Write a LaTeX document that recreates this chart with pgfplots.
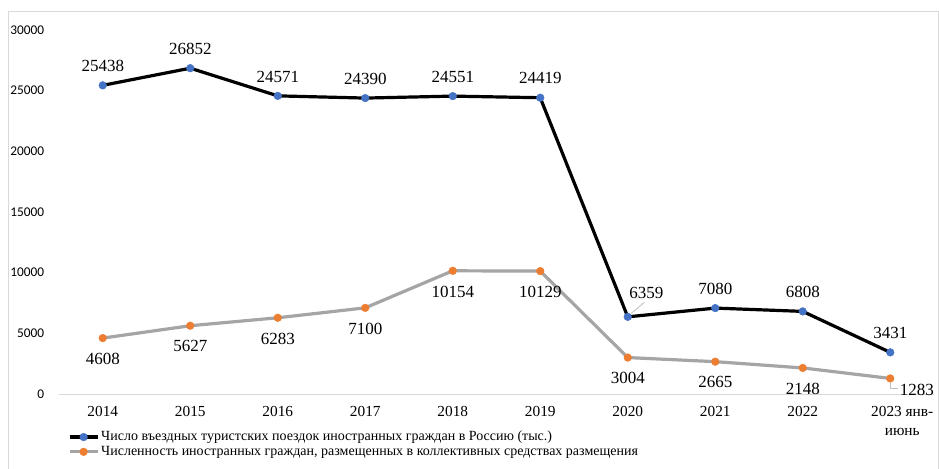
\documentclass[border=0pt]{standalone}
\usepackage{fontspec}
\setmainfont{Liberation Serif}
\newfontfamily\calibri{Carlito}
\usepackage{pgfplots}
\pgfplotsset{compat=1.18}
\usepackage{pgfplotstable}
\definecolor{xblue}{HTML}{4472C4}
\definecolor{xorange}{HTML}{ED7D31}
\definecolor{xgray}{HTML}{A5A5A5}
\definecolor{frm}{HTML}{D9D9D9}
\definecolor{lead}{HTML}{BFBFBF}

\pgfplotstableread{
x y dx dy
0 25438 0 14.5
1 26852 0 14.5
2 24571 0 14.5
3 24390 0 14.5
4 24551 0 14.5
5 24419 0 14.5
6 6359 14 18
7 7080 0 14.5
8 6808 0 14.5
9 3431 0 14.5
}\tourists

\pgfplotstableread{
x y dx dy
0 4608 0 -15.5
1 5627 0 -15.5
2 6283 0 -15.5
3 7100 0 -15.5
4 10154 0 -15.5
5 10129 0 -15.5
6 3004 0 -15.5
7 2665 0 -15.5
8 2148 0 -15.5
9 1283 20 -8.5
}\guests

\begin{document}
\begin{tikzpicture}
\path[use as bounding box] (0,0) rectangle (704.25pt,351pt);
\draw[frm, line width=0.75pt] (6pt,-20pt) -- (6pt,342pt) -- (703.5pt,342pt) -- (703.5pt,-20pt);
\begin{axis}[
  at={(44.25pt,55.5pt)}, anchor=south west,
  scale only axis, width=656.25pt, height=273pt,
  xmin=-0.5, xmax=9.5, ymin=0, ymax=30000,
  axis lines=left,
  axis line style={-},
  x axis line style={draw=frm, line width=0.75pt},
  y axis line style={draw=none},
  tick style={draw=none},
  ytick={0,5000,...,30000},
  xtick={0,...,8},
  xticklabels={2014,2015,2016,2017,2018,2019,2020,2021,2022},
  extra x ticks={9},
  extra x tick labels={{2023 янв-\\июнь}},
  extra x tick style={xticklabel style={xshift=9pt}},
  xticklabel style={font=\fontsize{11.5}{14}\selectfont, align=center, anchor=north, yshift=-3.5pt},
  yticklabel style={font=\calibri\fontsize{10}{12}\selectfont, anchor=east, xshift=-5.5pt},
  /pgf/number format/assume math mode=true,
  /pgf/number format/1000 sep={},
  scaled y ticks=false,
  clip=false,
  legend style={at={(0.01,-0.096)}, anchor=north west, draw=none, fill=none,
    font=\fontsize{10.5}{12.5}\selectfont, inner sep=0pt, row sep=-0.5pt,
    nodes={inner sep=1.5pt}},
  legend cell align=left,
  legend image code/.code={\draw[mark repeat=2,mark phase=2,#1] plot coordinates {(0pt,0pt) (10.5pt,0pt) (21pt,0pt)};},
  nodes near coords={\pgfplotspointmeta},
  point meta=explicit symbolic,
  visualization depends on={\thisrow{dx} \as \dx},
  visualization depends on={\thisrow{dy} \as \dy},
  every node near coord/.append style={font=\fontsize{12.75}{14}\selectfont, anchor=center, xshift=\dx pt, yshift=\dy pt, text=black},
]
\addplot[black, line width=2.4pt, mark=*, mark size=2.9pt, mark options={solid, fill=xblue, draw=xblue, line width=0.3pt}]
  table[x=x, y=y, meta=y] {\tourists};
\addlegendentry{Число въездных туристских поездок иностранных граждан в Россию (тыс.)}
\addplot[xgray, line width=2.4pt, mark=*, mark size=2.9pt, mark options={solid, fill=xorange, draw=xorange, line width=0.3pt}]
  table[x=x, y=y, meta=y] {\guests};
\addlegendentry{Численность иностранных граждан, размещенных в коллективных средствах размещения}
\draw[lead, line width=0.6pt] (axis cs:6.04,6650) -- (axis cs:6.19,7550);
\draw[lead, line width=0.6pt] (axis cs:9,880) -- (axis cs:9,480) -- (axis cs:9.09,480);
\end{axis}
\end{tikzpicture}
\end{document}
